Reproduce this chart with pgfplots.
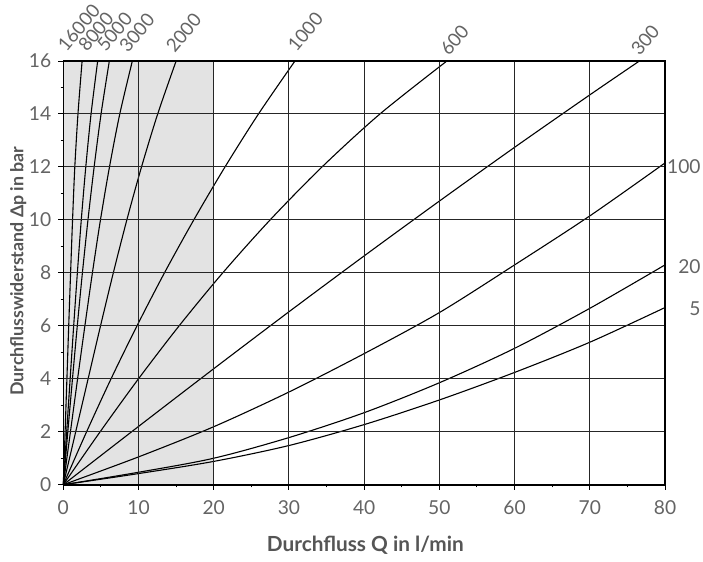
\documentclass[border=0pt]{standalone}
\usepackage{pgfplots}
\pgfplotsset{compat=1.18}
\usepackage{fontspec}
\setmainfont{Lato}
\definecolor{tickgray}{RGB}{100,100,100}
\definecolor{labgray}{RGB}{85,85,85}
\definecolor{shade}{RGB}{227,227,227}
\begin{document}
\begin{tikzpicture}
\begin{axis}[
  width=300.85pt, height=211.85pt, scale only axis,
  xmin=0, xmax=80, ymin=0, ymax=16,
  xtick={0,10,...,80}, ytick={0,2,...,16},
  minor x tick num=1, minor y tick num=1,
  grid=major,
  major grid style={line width=0.5pt, color=black!85},
  tick align=outside, tick pos=left,
  major tick length=2.5pt, minor tick length=1.3pt,
  every tick/.style={black, line width=0.5pt},
  axis line style={line width=0.8pt},
  axis on top,
  clip=false,
  tick label style={font=\fontsize{9.6}{11}\selectfont, text=tickgray},
  /pgf/number format/assume math mode=true,
  xticklabel style={yshift=-2pt},
  xlabel={\textbf{Durchfluss Q in l/min}},
  ylabel={\textbf{Durchflusswiderstand Δp in bar}},
  xlabel style={at={(axis description cs:0.502,-0.158)}, anchor=base, font=\fontsize{10.4}{12}\selectfont, text=labgray},
  ylabel style={at={(axis description cs:-0.075,0.504)}, anchor=center, rotate=0, font=\fontsize{8.9}{11}\selectfont, text=labgray},
  every axis plot/.append style={black, line width=0.55pt},
]
\addplot[fill=shade, draw=none] coordinates {(0,0) (20,0) (20,16) (0,16)} \closedcycle;
% 5
\addplot[smooth] coordinates {(0,0)(10,0.42)(20,0.88)(30,1.48)(40,2.27)(50,3.2)(60,4.24)(70,5.38)(80,6.69)};
% 20
\addplot[smooth] coordinates {(0,0)(10,0.47)(20,1.0)(30,1.78)(40,2.72)(50,3.85)(60,5.15)(70,6.66)(80,8.3)};
% 100
\addplot[smooth] coordinates {(0,0)(10,1.05)(20,2.19)(30,3.5)(40,4.95)(50,6.5)(60,8.3)(70,10.15)(80,12.15)};
% 300
\addplot[smooth] coordinates {(0,0)(10,2.2)(20,4.38)(30,6.53)(40,8.64)(50,10.71)(60,12.74)(70,14.72)(76.6,16)};
% 600
\addplot[smooth] coordinates {(0,0)(4.9,2)(10.0,4)(15.4,6)(21.2,8)(27.5,10)(34.4,12)(42.1,14)(51,16)};
% 1000
\addplot[smooth] coordinates {(0,0)(3.1,2)(6.35,4)(9.8,6)(13.45,8)(17.35,10)(21.5,12)(25.95,14)(30.8,16)};
% 2000
\addplot[smooth] coordinates {(0,0)(1.65,2)(3.3,4)(4.95,6)(6.65,8)(8.45,10)(10.4,12)(12.55,14)(15.0,16)};
% 3000
\addplot[smooth] coordinates {(0,0)(0.95,2)(1.9,4)(2.87,6)(3.87,8)(4.94,10)(6.14,12)(7.51,14)(9.18,16)};
% 5000
\addplot[smooth] coordinates {(0,0)(0.6,2)(1.22,4)(1.86,6)(2.54,8)(3.28,10)(4.1,12)(5.02,14)(6.12,16)};
% 8000
\addplot[smooth] coordinates {(0,0)(0.45,2)(0.91,4)(1.38,6)(1.87,8)(2.39,10)(2.99,12)(3.69,14)(4.57,16)};
% 16000
\addplot[smooth] coordinates {(0,0)(0.24,2)(0.48,4)(0.72,6)(0.97,8)(1.23,10)(1.53,12)(1.95,14)(2.5,16)};
% top labels
\begin{scope}[every node/.style={rotate=50, anchor=south west, inner sep=0pt, font=\fontsize{9.3}{10}\selectfont, text=tickgray}]
\node at (axis cs:0.45,16.29) {16000};
\node at (axis cs:3.19,16.29) {8000};
\node at (axis cs:5.67,16.29) {5000};
\node at (axis cs:8.64,16.25) {3000};
\node at (axis cs:14.85,16.25) {2000};
\node at (axis cs:31.04,16.29) {1000};
\node at (axis cs:51.33,16.14) {600};
\node at (axis cs:76.68,16.14) {300};
\end{scope}
% right labels
\begin{scope}[every node/.style={anchor=east, inner sep=0pt, font=\fontsize{9.6}{11}\selectfont, text=tickgray}]
\node at ([xshift=18pt]axis cs:80,12.0) {100};
\node at ([xshift=18pt]axis cs:80,8.23) {20};
\node at ([xshift=18pt]axis cs:80,6.66) {5};
\end{scope}
\end{axis}
\path ([xshift=-31.65pt,yshift=-35.15pt]current axis.south west) rectangle ([xshift=19pt,yshift=30.5pt]current axis.north east);
\end{tikzpicture}
\end{document}
